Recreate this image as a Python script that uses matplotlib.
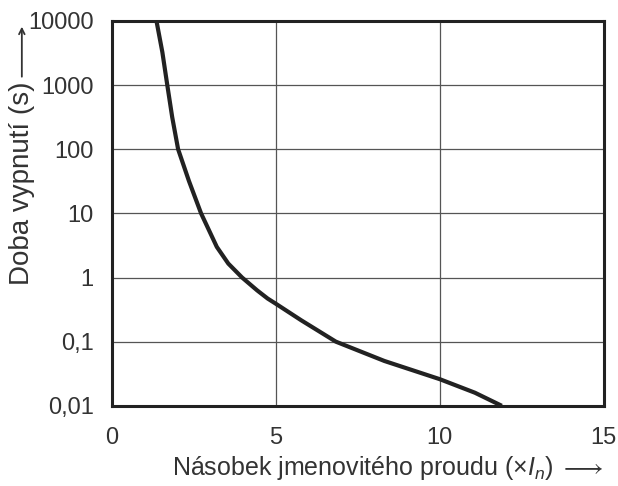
import numpy as np
import matplotlib
matplotlib.use("Agg")
import matplotlib.pyplot as plt
from matplotlib.ticker import FixedLocator, FixedFormatter

plt.rcParams["font.family"] = ["Liberation Sans", "DejaVu Sans"]
plt.rcParams["mathtext.fontset"] = "custom"
plt.rcParams["mathtext.rm"] = "Liberation Sans"
plt.rcParams["mathtext.it"] = "Liberation Sans:italic"

#Data
current = [1.36, 1.54, 1.69, 1.84, 2.02, 2.35, 2.72, 3.20, 3.55, 3.97, 4.43,
           4.75, 5.0, 5.77, 6.83, 8.31, 10.0, 11.07, 11.89]
trip_time = [10000, 3250, 1000, 316, 100, 32, 10, 3.0, 1.65, 1.0, 0.63,
             0.47, 0.39, 0.216, 0.1, 0.050, 0.026, 0.016, 0.01]

x_ticks = [0, 5, 10, 15]
y_ticks = [0.01, 0.1, 1, 10, 100, 1000, 10000]
y_tick_labels = ["0,01", "0,1", "1", "10", "100", "1000", "10000"]

fig = plt.figure(figsize=(6.18, 4.86), dpi=100)
ax = fig.add_axes([0.181, 0.165, 0.796, 0.792])

ax.plot(current, trip_time, color="#222222", linewidth=3.0,
        solid_joinstyle="round", solid_capstyle="butt", zorder=3)

ax.set_yscale("log")
ax.set_xlim(0, 15)
ax.set_ylim(0.01, 10000)
ax.xaxis.set_major_locator(FixedLocator(x_ticks))
ax.yaxis.set_major_locator(FixedLocator(y_ticks))
ax.yaxis.set_major_formatter(FixedFormatter(y_tick_labels))
ax.yaxis.set_minor_locator(FixedLocator([]))

ax.grid(True, color="#555555", linewidth=0.9)
for s in ax.spines.values():
    s.set_linewidth(2.2)
    s.set_color("#222222")

ax.tick_params(axis="both", length=0, labelsize=17, colors="#333333")
ax.tick_params(axis="x", pad=15)
ax.tick_params(axis="y", pad=13)

ax.set_xlabel(r"Násobek jmenovitého proudu (×$I_n$) $\longrightarrow$",
              fontsize=18, color="#333333", loc="right", labelpad=4)

# y label: text plus a separate long arrow above it
ax.set_ylabel("Doba vypnutí (s)", fontsize=20, color="#333333")
ax.yaxis.set_label_coords(-0.183, 0.314)
ax.yaxis.label.set_horizontalalignment("left")
ax.yaxis.label.set_verticalalignment("center")
ax.annotate("", xy=(-0.183, 0.985), xytext=(-0.183, 0.855),
            xycoords="axes fraction", textcoords="axes fraction",
            arrowprops=dict(arrowstyle="->", color="#333333", lw=1.3,
                            shrinkA=0, shrinkB=0))

plt.savefig("out.png", dpi=100)
